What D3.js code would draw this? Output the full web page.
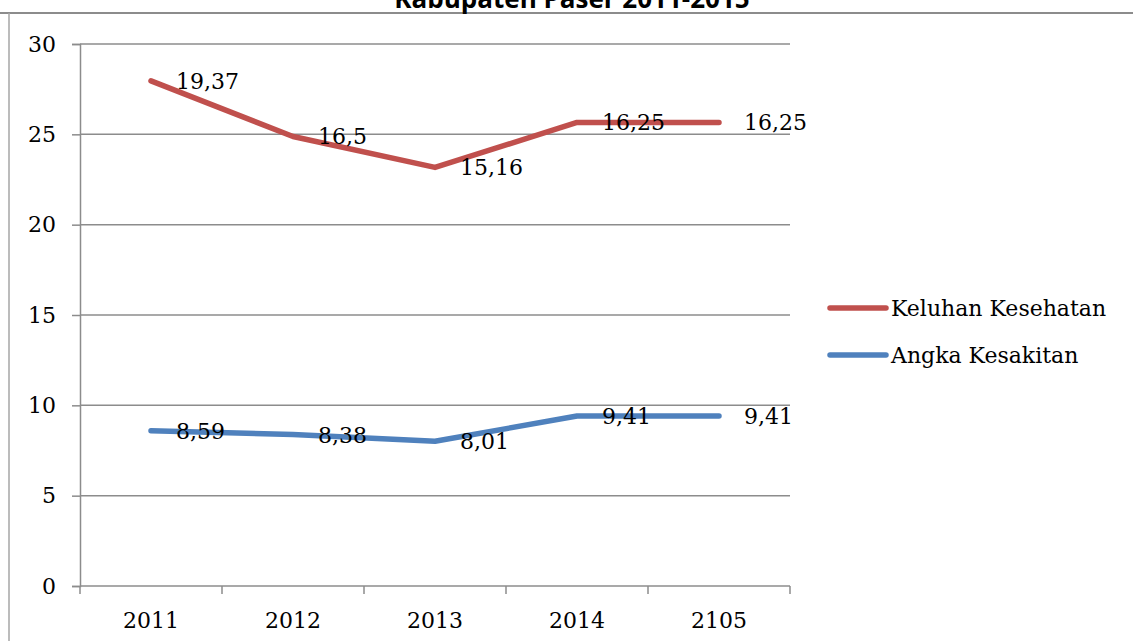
<!DOCTYPE html>
<html>
<head>
<meta charset="utf-8">
<script src="https://cdn.jsdelivr.net/npm/d3@7"></script>
<style>
  body { margin: 0; background: #fff; }
  svg { display: block; }
</style>
</head>
<body>
<div id="chart"></div>
<script>
// data (stacked line chart)
var years = ["2011", "2012", "2013", "2014", "2105"];
var angkaKesakitan = [8.59, 8.38, 8.01, 9.41, 9.41];
var keluhanKesehatan = [19.37, 16.5, 15.16, 16.25, 16.25];
var yTicks = [0, 5, 10, 15, 20, 25, 30];
var seriesNames = ["Keluhan Kesehatan", "Angka Kesakitan"];

var WIDTH = 1133, HEIGHT = 641;
var plot = { left: 80, right: 790, top: 44, bottom: 586 };
var serif = "'DejaVu Serif', serif";

var svg = d3.select("#chart").append("svg")
    .attr("width", WIDTH)
    .attr("height", HEIGHT);

// chart frame (only top and left edges visible)
svg.append("line")
    .attr("x1", 0).attr("x2", WIDTH).attr("y1", 13).attr("y2", 13)
    .style("stroke", "#8c8c8c").style("stroke-width", 2);
svg.append("line")
    .attr("x1", 9).attr("x2", 9).attr("y1", 13).attr("y2", HEIGHT)
    .style("stroke", "#a6a6a6").style("stroke-width", 1.5);

// title, mostly cut off at top
svg.append("text")
    .attr("x", 572).attr("y", 8)
    .attr("text-anchor", "middle")
    .style("font-family", "'Open Sans', sans-serif")
    .style("font-weight", "bold")
    .style("font-size", "26px")
    .text("Kabupaten Paser 2011-2015");

var x = d3.scaleBand().domain(years).range([plot.left, plot.right]);
var y = d3.scaleLinear().domain([0, 30]).range([plot.bottom, plot.top]);

// gridlines
svg.append("g").selectAll("line").data(yTicks.slice(1)).enter().append("line")
    .attr("x1", plot.left).attr("x2", plot.right)
    .attr("y1", function(d) { return y(d); })
    .attr("y2", function(d) { return y(d); })
    .style("stroke", "#8c8c8c").style("stroke-width", 1.5);

// y axis
var yAxis = svg.append("g")
    .attr("transform", "translate(" + plot.left + ",0)")
    .call(d3.axisLeft(y).tickValues(yTicks).tickSize(8).tickPadding(16).tickFormat(d3.format("d")));
yAxis.select(".domain").style("stroke", "#8c8c8c").style("stroke-width", 1.5);
yAxis.selectAll(".tick line").style("stroke", "#8c8c8c").style("stroke-width", 1.5);
yAxis.selectAll("text").style("font-family", serif).style("font-size", "22px").style("fill", "#000");

// x axis: ticks on category boundaries
var xAxisG = svg.append("g").attr("transform", "translate(0," + plot.bottom + ")");
xAxisG.append("line")
    .attr("x1", plot.left).attr("x2", plot.right)
    .style("stroke", "#8c8c8c").style("stroke-width", 1.5);
var bounds = years.map(function(d) { return x(d); }).concat([plot.right]);
xAxisG.selectAll(".xtick").data(bounds).enter().append("line")
    .attr("x1", function(d) { return d; }).attr("x2", function(d) { return d; })
    .attr("y1", 0).attr("y2", 8)
    .style("stroke", "#8c8c8c").style("stroke-width", 1.5);
xAxisG.selectAll(".xlabel").data(years).enter().append("text")
    .attr("x", function(d) { return x(d) + x.bandwidth() / 2; })
    .attr("y", 42)
    .attr("text-anchor", "middle")
    .style("font-family", serif).style("font-size", "22px")
    .text(function(d) { return d; });

// stacked values
var bottomVals = angkaKesakitan;
var topVals = keluhanKesehatan.map(function(v, i) { return v + angkaKesakitan[i]; });

var line = d3.line()
    .x(function(d, i) { return x(years[i]) + x.bandwidth() / 2; })
    .y(function(d) { return y(d); });

var series = [
    { name: seriesNames[0], color: "#c0504d", plotted: topVals, raw: keluhanKesehatan },
    { name: seriesNames[1], color: "#4f81bd", plotted: bottomVals, raw: angkaKesakitan }
];

var fmt = function(v) { return String(v).replace(".", ","); };

series.forEach(function(s) {
    svg.append("path")
        .datum(s.plotted)
        .attr("d", line)
        .style("fill", "none")
        .style("stroke", s.color)
        .style("stroke-width", 5.5)
        .style("stroke-linecap", "round")
        .style("stroke-linejoin", "round");
});

series.forEach(function(s) {
    svg.append("g").selectAll("text").data(s.plotted).enter().append("text")
        .attr("x", function(d, i) { return x(years[i]) + x.bandwidth() / 2 + 25; })
        .attr("y", function(d) { return y(d); })
        .attr("dy", "0.36em")
        .style("font-family", serif).style("font-size", "22px")
        .text(function(d, i) { return fmt(s.raw[i]); });
});

// legend
var legend = svg.append("g").selectAll("g").data(series).enter().append("g")
    .attr("transform", function(d, i) { return "translate(830," + (308 + i * 47) + ")"; });
legend.append("line")
    .attr("x1", 0).attr("x2", 56)
    .style("stroke", function(d) { return d.color; })
    .style("stroke-width", 5.5)
    .style("stroke-linecap", "round");
legend.append("text")
    .attr("x", 61).attr("dy", "0.36em")
    .style("font-family", serif).style("font-size", "22px")
    .text(function(d) { return d.name; });
</script>
</body>
</html>
